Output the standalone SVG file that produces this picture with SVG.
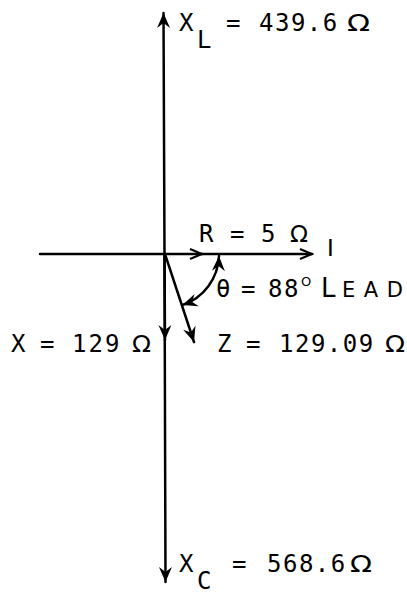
<svg xmlns="http://www.w3.org/2000/svg" width="407" height="594" viewBox="0 0 407 594">
<style>
.ln{stroke:#000;stroke-width:2.5;fill:none;stroke-linecap:round}
.t{font-family:"DejaVu Sans Mono","Liberation Mono",monospace;font-size:24px;fill:#000}
.s{font-family:"DejaVu Sans","Liberation Sans",sans-serif;fill:#000}
.om{font-family:"DejaVu Sans","Liberation Sans",sans-serif;font-size:23px;fill:#000}
</style>
<defs>
<marker id="dart" viewBox="-17 -8 18 16" refX="0" refY="0" markerWidth="18" markerHeight="16" orient="auto-start-reverse" markerUnits="userSpaceOnUse">
<path d="M0,0 L-15,-6.5 L-10,0 L-15,6.5 Z" fill="#000"/>
</marker>
<marker id="chev" viewBox="-14 -7 16 14" refX="0" refY="0" markerWidth="16" markerHeight="14" orient="auto" markerUnits="userSpaceOnUse">
<path d="M-12,-5 L0,0 L-12,5" fill="none" stroke="#000" stroke-width="2.2"/>
</marker>
</defs>
<g id="connectors">
<line class="ln" x1="164.5" y1="254" x2="163.5" y2="13" marker-end="url(#dart)"/>
<line class="ln" x1="164.5" y1="254" x2="165.5" y2="582" marker-end="url(#dart)"/>
<line class="ln" x1="164.5" y1="254" x2="165" y2="340" marker-end="url(#dart)"/>
<line class="ln" x1="40" y1="254" x2="202" y2="254" marker-end="url(#chev)"/>
<line class="ln" x1="202" y1="254" x2="312" y2="254" marker-end="url(#chev)"/>
<line class="ln" x1="165" y1="254" x2="194" y2="342" marker-end="url(#dart)"/>
<path class="ln" d="M219,256 A54,54 0 0 1 182.5,305" marker-start="url(#dart)" marker-end="url(#dart)"/>
</g>
<g id="xl">
<text class="t" x="179" y="31">X</text>
<text class="t" x="197" y="48" font-size="20">L</text>
<text class="t" x="226" y="31">=</text>
<text class="t" x="259" y="31" letter-spacing="1.5">439.6</text>
<text class="om" x="347" y="31" textLength="23" lengthAdjust="spacingAndGlyphs">Ω</text>
</g>
<g id="r">
<text class="t" x="199" y="242">R</text>
<text class="t" x="230" y="242">=</text>
<text class="t" x="261" y="242">5</text>
<text class="om" x="290" y="242" textLength="18" lengthAdjust="spacingAndGlyphs">Ω</text>
</g>
<g id="i">
<text class="s" x="327" y="256" font-size="23">I</text>
</g>
<g id="theta">
<text class="t" x="216" y="297">θ</text>
<text class="t" x="241" y="297">=</text>
<text class="t" x="268" y="297" letter-spacing="1.5">88</text>
<text class="s" x="301" y="286" font-size="13">O</text>
<text class="s" x="321" y="297" font-size="26">L</text>
<text class="s" x="342" y="297" font-size="21" textLength="61" lengthAdjust="spacing">EAD</text>
</g>
<g id="x">
<text class="t" x="11" y="352">X</text>
<text class="t" x="40" y="352">=</text>
<text class="t" x="72" y="352" letter-spacing="2">129</text>
<text class="om" x="132" y="352" textLength="19" lengthAdjust="spacingAndGlyphs">Ω</text>
</g>
<g id="z">
<text class="t" x="217" y="352">Z</text>
<text class="t" x="246" y="352">=</text>
<text class="t" x="279" y="352" letter-spacing="1.5">129.09</text>
<text class="om" x="385" y="352" textLength="20" lengthAdjust="spacingAndGlyphs">Ω</text>
</g>
<g id="xc">
<text class="t" x="179" y="572">X</text>
<text class="t" x="197" y="589" font-size="19">C</text>
<text class="t" x="232" y="572">=</text>
<text class="t" x="267" y="572" letter-spacing="1.5">568.6</text>
<text class="om" x="350" y="572" textLength="22" lengthAdjust="spacingAndGlyphs">Ω</text>
</g>
</svg>
